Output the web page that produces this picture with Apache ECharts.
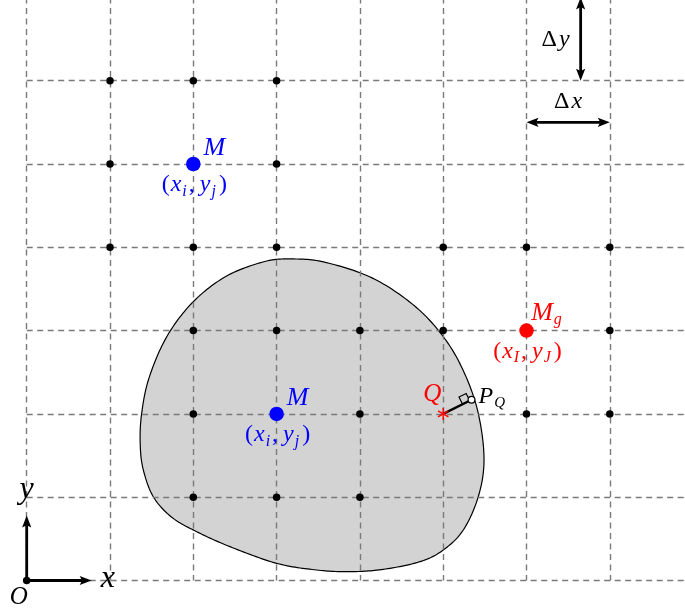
<!DOCTYPE html>
<html>
<head>
<meta charset="utf-8">
<script src="https://cdn.jsdelivr.net/npm/echarts@6/dist/echarts.min.js"></script>
<style>
  html, body { margin: 0; padding: 0; background: #ffffff; }
  #chart { width: 685px; height: 613px; }
</style>
</head>
<body>
<div id="chart"></div>
<script>
// Mesh extent (in cell units) and tick step
const xRange = [0, 8];
const yRange = [0, 7];
const meshStep = 1;

// Mesh nodes flagged with a small black dot, [i, j]
const meshNodes = [
  [1, 6], [2, 6], [3, 6],
  [1, 5], [3, 5],
  [1, 4], [2, 4], [3, 4], [5, 4], [6, 4], [7, 4],
  [2, 3], [3, 3], [4, 3], [5, 3], [7, 3],
  [2, 2], [4, 2], [6, 2], [7, 2],
  [2, 1], [3, 1], [4, 1]
];

// Regular nodes M(x_i, y_j) and the ghost node M_g(x_I, y_J)
const regularNodes = [[2, 5], [3, 2]];
const ghostNodes = [[6, 3]];
const originPoint = [[0, 0]];

// Closed boundary of the domain (smooth closed curve through these points)
const boundaryX = [3.161, 3.565, 4.145, 4.658, 5.022, 5.265, 5.425, 5.490, 5.421, 5.241, 5.001, 4.721, 4.281, 3.881,
                   3.481, 3.001, 2.441, 2.041, 1.741, 1.520, 1.400, 1.363, 1.378, 1.468, 1.685, 2.004, 2.400, 2.848];
const boundaryY = [3.860, 3.824, 3.633, 3.295, 2.899, 2.467, 1.989, 1.447, 1.006, 0.606, 0.366, 0.226, 0.134, 0.106,
                   0.126, 0.206, 0.406, 0.586, 0.759, 1.006, 1.327, 1.627, 1.989, 2.430, 2.933, 3.351, 3.655, 3.827];

// Image point Q and its projection P_Q on the boundary
const pointQ = [5, 2];
const pointPQ = [5.34, 2.17];

// Arrows: [x0, y0, x1, y1, double-headed]
const arrowSegments = [
  [0, 0, 0.78, 0, 0],
  [0, 0, 0, 0.78, 0],
  [6, 5.5, 7, 5.5, 1],
  [6.65, 6, 6.65, 7, 1]
];

const MATH = '"Liberation Serif", "Times New Roman", serif';

function richFor(color, size, subSize) {
  const base = { fontFamily: MATH, fontSize: size, lineHeight: size + 5, fill: color, color: color };
  return {
    r: base,
    p: Object.assign({}, base, { padding: [0, 1, 0, 1] }),
    c: Object.assign({}, base, { padding: [0, 5, 0, 0] }),
    d: Object.assign({}, base, { padding: [0, 2, 0, 0] }),
    i: Object.assign({}, base, { fontStyle: 'italic' }),
    m: Object.assign({}, base, { fontStyle: 'italic', fontSize: size + 2 }),
    s: { fontFamily: MATH, fontStyle: 'italic', fontSize: subSize, lineHeight: subSize, fill: color, color: color,
         verticalAlign: 'bottom', padding: [0, 2, 0, 1] }
  };
}

function textEl(x, y, text, color, size, subSize, align) {
  return {
    type: 'text',
    x: x, y: y,
    style: {
      text: text,
      rich: richFor(color, size, subSize),
      fill: color,
      align: align || 'center',
      verticalAlign: 'middle'
    }
  };
}

function arrowHead(tip, dir, len, half) {
  const bx = tip[0] - dir[0] * len, by = tip[1] - dir[1] * len;
  const nx = -dir[1], ny = dir[0];
  return {
    type: 'polygon',
    shape: { points: [tip, [bx + nx * half, by + ny * half], [tip[0] - dir[0] * len * 0.8, tip[1] - dir[1] * len * 0.8], [bx - nx * half, by - ny * half]] },
    style: { fill: '#000000' }
  };
}

// Closed Catmull-Rom curve through pixel points, sampled densely
function closedSpline(pts, steps) {
  const out = [];
  const n = pts.length;
  for (let k = 0; k < n; k++) {
    const p0 = pts[(k - 1 + n) % n], p1 = pts[k], p2 = pts[(k + 1) % n], p3 = pts[(k + 2) % n];
    for (let s = 0; s < steps; s++) {
      const t = s / steps, t2 = t * t, t3 = t2 * t;
      const f = function (a, b, c, d) {
        return 0.5 * ((2 * b) + (-a + c) * t + (2 * a - 5 * b + 4 * c - d) * t2 + (-a + 3 * b - 3 * c + d) * t3);
      };
      out.push([f(p0[0], p1[0], p2[0], p3[0]), f(p0[1], p1[1], p2[1], p3[1])]);
    }
  }
  return out;
}

const chart = echarts.init(document.getElementById('chart'), null, { renderer: 'canvas' });

const unit = 83.3;
const gridLine = { color: '#7a7a7a', width: 1.4, type: [6, 4.5] };
const option = {
  animation: false,
  backgroundColor: '#ffffff',
  grid: {
    left: 26.7, top: 580.5 - 7 * unit, width: 8 * unit, height: 7 * unit,
    outerBoundsMode: 'none', containLabel: false
  },
  xAxis: {
    type: 'value', min: xRange[0], max: xRange[1], interval: meshStep, z: 1,
    axisLine: { show: false }, axisTick: { show: false }, axisLabel: { show: false },
    splitLine: { show: true, lineStyle: gridLine }
  },
  yAxis: {
    type: 'value', min: yRange[0], max: yRange[1], interval: meshStep, z: 1,
    axisLine: { show: false }, axisTick: { show: false }, axisLabel: { show: false },
    splitLine: { show: true, lineStyle: gridLine }
  },
  series: [
    {
      // domain
      type: 'custom', z: 0, silent: true,
      data: [[boundaryX[0], boundaryY[0]]],
      renderItem: function (params, api) {
        const pts = boundaryX.map(function (x, k) { return api.coord([x, boundaryY[k]]); });
        return {
          type: 'polygon',
          shape: { points: closedSpline(pts, 16) },
          style: { fill: '#d3d3d3', stroke: '#000000', lineWidth: 1.2 }
        };
      }
    },
    {
      type: 'scatter', z: 5, silent: true,
      data: meshNodes, symbol: 'circle', symbolSize: 7.5,
      itemStyle: { color: '#000000', opacity: 1 }
    },
    {
      type: 'scatter', z: 5, silent: true,
      data: originPoint, symbol: 'circle', symbolSize: 7.5,
      itemStyle: { color: '#000000', opacity: 1 }
    },
    {
      type: 'scatter', z: 5, silent: true,
      data: regularNodes, symbol: 'circle', symbolSize: 14.5,
      itemStyle: { color: '#0000ff', opacity: 1 }
    },
    {
      type: 'scatter', z: 5, silent: true,
      data: ghostNodes, symbol: 'circle', symbolSize: 14.5,
      itemStyle: { color: '#ff0000', opacity: 1 }
    },
    {
      // arrows
      type: 'custom', z: 6, silent: true,
      data: arrowSegments,
      renderItem: function (params, api) {
        const a = api.coord([api.value(0), api.value(1)]);
        const b = api.coord([api.value(2), api.value(3)]);
        const both = api.value(4) === 1;
        const dx = b[0] - a[0], dy = b[1] - a[1];
        const L = Math.sqrt(dx * dx + dy * dy);
        const u = [dx / L, dy / L];
        const len = 12, half = 4.6;
        const s = both ? [a[0] + u[0] * len * 0.8, a[1] + u[1] * len * 0.8] : a;
        const e = [b[0] - u[0] * len * 0.8, b[1] - u[1] * len * 0.8];
        const children = [
          { type: 'line', shape: { x1: s[0], y1: s[1], x2: e[0], y2: e[1] }, style: { stroke: '#000000', lineWidth: 2.8 } },
          arrowHead(b, u, len, half)
        ];
        if (both) children.push(arrowHead(a, [-u[0], -u[1]], len, half));
        return { type: 'group', children: children };
      }
    },
    {
      // projection Q -> P_Q with right-angle mark and asterisk at Q
      type: 'custom', z: 7, silent: true,
      data: [pointQ.concat(pointPQ)],
      renderItem: function (params, api) {
        const q = api.coord([api.value(0), api.value(1)]);
        const p = api.coord([api.value(2), api.value(3)]);
        const dx = q[0] - p[0], dy = q[1] - p[1];
        const L = Math.sqrt(dx * dx + dy * dy);
        const u = [dx / L, dy / L];
        const n = [-u[1], u[0]];
        const sq = 8;
        const c0 = [p[0] + u[0] * 2, p[1] + u[1] * 2];
        const c1 = [c0[0] + u[0] * sq, c0[1] + u[1] * sq];
        const c2 = [c1[0] + n[0] * sq, c1[1] + n[1] * sq];
        const c3 = [c0[0] + n[0] * sq, c0[1] + n[1] * sq];
        const children = [
          { type: 'polyline', shape: { points: [c1, c2, c3, c0] }, style: { stroke: '#000000', lineWidth: 1.2, fill: null } },
          { type: 'line', shape: { x1: q[0], y1: q[1], x2: p[0], y2: p[1] }, style: { stroke: '#000000', lineWidth: 2.4 } }
        ];
        const r = 6;
        [90, 30, -30].forEach(function (deg) {
          const t = deg * Math.PI / 180;
          children.push({
            type: 'line',
            shape: { x1: q[0] - r * Math.cos(t), y1: q[1] + r * Math.sin(t), x2: q[0] + r * Math.cos(t), y2: q[1] - r * Math.sin(t) },
            style: { stroke: '#ff0000', lineWidth: 1.4 }
          });
        });
        children.push({ type: 'circle', shape: { cx: p[0], cy: p[1], r: 3.4 }, style: { fill: '#ffffff', stroke: '#000000', lineWidth: 1.2 } });
        return { type: 'group', children: children };
      }
    },
    {
      // annotations
      type: 'custom', z: 8, silent: true,
      data: [[0]],
      renderItem: function (params, api) {
        const blue = '#0000ff', red = '#ff0000', black = '#000000';
        const els = [];
        regularNodes.forEach(function (m) {
          const c = api.coord(m);
          els.push(textEl(c[0] + 21, c[1] - 15.5, '{m|M}', blue, 24, 16));
          els.push(textEl(c[0] + 1, c[1] + 21, '{p|(}{i|x}{s|i}{c|,}{i|y}{s|j}{p|)}', blue, 24, 16));
        });
        ghostNodes.forEach(function (m) {
          const c = api.coord(m);
          els.push(textEl(c[0] + 21, c[1] - 17, '{m|M}{s|g}', red, 24, 16));
          els.push(textEl(c[0] + 1, c[1] + 21, '{p|(}{i|x}{s|I}{c|,}{i|y}{s|J}{p|)}', red, 24, 16));
        });
        const q = api.coord(pointQ);
        els.push(textEl(q[0] - 11, q[1] - 19, '{m|Q}', red, 23, 16));
        const p = api.coord(pointPQ);
        els.push(textEl(p[0] + 7, p[1] - 3, '{m|P}{s|Q}', black, 22, 15, 'left'));

        const dxA = arrowSegments[2], dyA = arrowSegments[3];
        const dxMid = api.coord([(dxA[0] + dxA[2]) / 2, dxA[1]]);
        els.push(textEl(dxMid[0], dxMid[1] - 21, '{d|\u0394}{i|x}', black, 24, 16));
        const dyMid = api.coord([dyA[0], (dyA[1] + dyA[3]) / 2]);
        els.push(textEl(dyMid[0] - 25, dyMid[1] + 1, '{d|\u0394}{i|y}', black, 24, 16));

        const o = api.coord(originPoint[0]);
        const xt = api.coord([arrowSegments[0][2], arrowSegments[0][3]]);
        const yt = api.coord([arrowSegments[1][2], arrowSegments[1][3]]);
        els.push(textEl(xt[0] + 9, xt[1] - 2, '{i|x}', black, 32, 20, 'left'));
        els.push(textEl(yt[0], yt[1] - 26, '{i|y}', black, 32, 20));
        els.push(textEl(o[0] - 8, o[1] + 17, '{i|O}', black, 25, 16));
        return { type: 'group', children: els };
      }
    }
  ]
};

chart.setOption(option);
</script>
</body>
</html>
